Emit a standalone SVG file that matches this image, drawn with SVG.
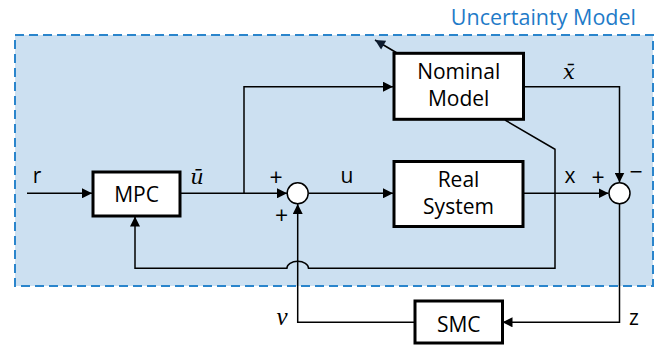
<svg xmlns="http://www.w3.org/2000/svg" width="668" height="345" viewBox="0 0 668 345">
  <defs>
    <marker id="arrow" viewBox="0 0 10 10" refX="10" refY="5" markerWidth="10" markerHeight="10" markerUnits="userSpaceOnUse" orient="auto">
      <path d="M0,0 L10,5 L0,10 Z" fill="#000"/>
    </marker>
    <marker id="arrowNavy" viewBox="0 0 10 10" refX="10" refY="5" markerWidth="11" markerHeight="10" markerUnits="userSpaceOnUse" orient="auto">
      <path d="M0,0 L10,5 L0,10 Z" fill="#0d1b2e"/>
    </marker>
  </defs>
  <style>
    .box { fill: #fff; stroke: #000; stroke-width: 3; }
    .sum { fill: #fff; stroke: #000; stroke-width: 1.5; }
    .wire { fill: none; stroke: #000; stroke-width: 1.5; }
    .lbl { font-family: "Open Sans", "Liberation Sans", sans-serif; font-size: 21px; fill: #000; }
    .sym { font-family: "Open Sans", "Liberation Sans", sans-serif; font-size: 23px; fill: #000; }
    .math { font-family: "DejaVu Serif", "Liberation Serif", serif; font-style: italic; font-size: 21px; fill: #000; }
    .mathv { font-family: "Liberation Serif", "DejaVu Serif", serif; font-style: italic; font-size: 25px; fill: #000; }
  </style>

  <!-- uncertainty region -->
  <g id="uncertainty">
    <rect x="15" y="35" width="638" height="251" fill="#cce0f1" stroke="#2a85cc" stroke-width="2" stroke-dasharray="9 5"/>
    <text x="636" y="25" text-anchor="end" class="lbl" style="fill:#1f7bc8;font-size:21.5px">Uncertainty Model</text>
  </g>

  <!-- connectors -->
  <g id="connectors">
    <path class="wire" d="M27,193.3 H92" marker-end="url(#arrow)"/>
    <path class="wire" d="M180,193.3 H287" marker-end="url(#arrow)"/>
    <path class="wire" d="M244,193.3 V86.7 H393" marker-end="url(#arrow)"/>
    <path class="wire" d="M308.5,193.3 H393" marker-end="url(#arrow)"/>
    <path class="wire" d="M523,193.3 H608.5" marker-end="url(#arrow)"/>
    <path class="wire" d="M523,86.7 H619.5 V182.5" marker-end="url(#arrow)"/>
    <path class="wire" d="M619.5,204 V322.3 H502.5" marker-end="url(#arrow)"/>
    <path class="wire" d="M415,322.3 H297.7 V204" marker-end="url(#arrow)"/>
    <path class="wire" d="M505,120 L555,149.3 V268.3 H308.5 A10.8 7 0 0 0 286.9 268.3 H135 V216.5" marker-end="url(#arrow)"/>
    <path class="wire" d="M397,53 L375,40" stroke="#0d1b2e" marker-end="url(#arrowNavy)"/>
  </g>

  <!-- summing junctions -->
  <g id="sum1">
    <circle class="sum" cx="297.7" cy="193.3" r="10.5"/>
    <text x="276" y="186" text-anchor="middle" class="sym">+</text>
    <text x="281.5" y="224" text-anchor="middle" class="sym">+</text>
  </g>
  <g id="sum2">
    <circle class="sum" cx="619.5" cy="193.3" r="10.5"/>
    <text x="598" y="186" text-anchor="middle" class="sym">+</text>
    <text x="636" y="180" text-anchor="middle" class="sym">−</text>
  </g>

  <!-- blocks -->
  <g id="mpc">
    <rect class="box" x="93" y="172" width="87" height="44"/>
    <text x="136.5" y="201.7" text-anchor="middle" class="lbl">MPC</text>
  </g>
  <g id="nominal-model">
    <rect class="box" x="394" y="53.3" width="129.5" height="66"/>
    <text x="458.7" y="78.5" text-anchor="middle" class="lbl">Nominal</text>
    <text x="458.7" y="106" text-anchor="middle" class="lbl">Model</text>
  </g>
  <g id="real-system">
    <rect class="box" x="394" y="161.5" width="129" height="65"/>
    <text x="458.5" y="186.7" text-anchor="middle" class="lbl">Real</text>
    <text x="458.5" y="214" text-anchor="middle" class="lbl">System</text>
  </g>
  <g id="smc">
    <rect class="box" x="415" y="301" width="87.5" height="42"/>
    <text x="458.7" y="331.7" text-anchor="middle" class="lbl">SMC</text>
  </g>

  <!-- signal labels -->
  <g id="labels">
    <text x="37" y="182.7" text-anchor="middle" class="lbl">r</text>
    <text x="197" y="184" text-anchor="middle" class="math">ū</text>
    <text x="347" y="183" text-anchor="middle" class="lbl">u</text>
    <text x="570" y="183" text-anchor="middle" class="lbl">x</text>
    <text x="569" y="79" text-anchor="middle" class="math">x̄</text>
    <text x="282" y="325" text-anchor="middle" class="mathv">v</text>
    <text x="634" y="325" text-anchor="middle" class="lbl">z</text>
  </g>
</svg>
